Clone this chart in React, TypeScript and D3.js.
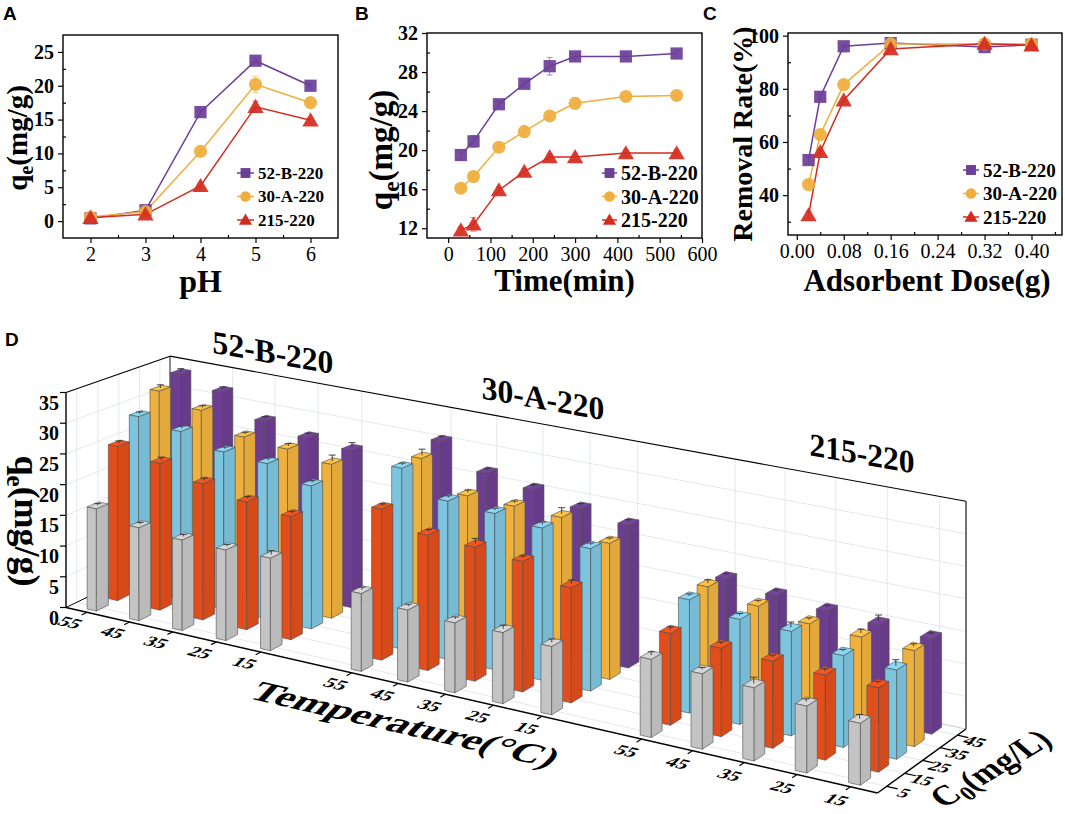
import { useEffect, useRef } from "react"
import * as d3 from "d3"

// ---------- shared series ----------
const seriesNames = ["52-B-220", "30-A-220", "215-220"]
const lineColors = ["#6B3E98", "#EFAE3D", "#D52B1E"]
const symbolTypes = [d3.symbolSquare, d3.symbolCircle, d3.symbolTriangle]
const symbolSizes = [150, 135, 115]

// ---------- panel A: effect of pH ----------
const phLevels = [2, 3, 4, 5, 6]
const phQe52B = [0.4, 1.6, 16.1, 23.7, 20.0]
const phQe30A = [0.6, 1.4, 10.3, 20.2, 17.5]
const phQe215 = [0.5, 1.0, 5.2, 16.9, 14.9]
const phErr52B = [0.2, 0.2, 0.3, 0.3, 0.3]
const phErr30A = [0.2, 0.2, 0.3, 1.2, 0.3]
const phErr215 = [0.2, 0.2, 0.5, 0.8, 0.3]

// ---------- panel B: contact time ----------
const timeMin = [30, 60, 120, 180, 240, 300, 420, 540]
const timeQe52B = [19.5, 20.9, 24.7, 26.8, 28.6, 29.6, 29.6, 29.9]
const timeQe30A = [16.1, 17.3, 20.3, 21.9, 23.5, 24.8, 25.5, 25.6]
const timeQe215 = [11.8, 12.4, 15.9, 17.8, 19.3, 19.3, 19.7, 19.7]
const timeErr52B = [0.5, 0.6, 0.3, 0.3, 0.9, 0.3, 0.3, 0.3]
const timeErr30A = [0.3, 0.4, 0.3, 0.6, 0.3, 0.6, 0.3, 0.3]
const timeErr215 = [0.3, 0.7, 0.3, 0.3, 0.3, 0.3, 0.3, 0.3]

// ---------- panel C: adsorbent dose ----------
const doseG = [0.02, 0.04, 0.08, 0.16, 0.32, 0.4]
const removal52B = [53.2, 77.0, 96.0, 97.2, 95.7, 96.6]
const removal30A = [44.0, 62.8, 81.6, 96.9, 96.9, 96.9]
const removal215 = [32.5, 56.3, 75.7, 95.0, 97.0, 96.4]
const removalErr52B = [1.2, 0.8, 0.5, 0.5, 0.5, 0.5]
const removalErr30A = [0.8, 0.8, 0.6, 0.5, 0.5, 0.5]
const removalErr215 = [1.5, 0.8, 0.6, 0.5, 0.5, 0.5]

// ---------- panel D: temperature x initial concentration ----------
const groups = ["52-B-220", "30-A-220", "215-220"]
const temps = [55, 45, 35, 25, 15]
const c0Levels = [5, 15, 25, 35, 45]
const c0Colors = ["#C4C4C4", "#E24E1B", "#7DC5DF", "#EFB13D", "#6D3D92"]
const zTicks = [0, 5, 10, 15, 20, 25, 30, 35]
// rows: C0 = 5,15,25,35,45 ; columns: T = 55,45,35,25,15
const qe52B = [
  [16.6, 15.0, 14.5, 14.4, 14.6],
  [25.4, 24.0, 22.1, 20.6, 19.7],
  [29.0, 27.9, 25.9, 25.4, 23.2],
  [32.0, 30.1, 27.0, 26.4, 25.3],
  [33.6, 31.9, 28.3, 26.9, 26.2],
]
const qe30A = [
  [12.1, 11.1, 10.7, 10.8, 10.3],
  [23.8, 21.2, 20.8, 20.1, 17.6],
  [28.9, 25.1, 24.6, 23.8, 22.1],
  [29.1, 24.5, 24.3, 24.0, 21.4],
  [30.5, 26.7, 25.5, 23.9, 22.8],
]
const qe215 = [
  [11.6, 11.1, 10.7, 9.7, 8.9],
  [13.8, 13.2, 12.9, 12.5, 12.3],
  [17.3, 15.9, 15.7, 13.7, 13.2],
  [17.7, 16.3, 15.2, 14.8, 14.4],
  [17.3, 16.3, 15.5, 15.0, 14.5],
]
const err52B = [
  [0.3, 0.3, 0.3, 0.3, 0.6],
  [0.4, 0.5, 0.4, 0.3, 0.3],
  [0.3, 0.4, 0.3, 0.4, 0.3],
  [0.6, 0.3, 0.3, 0.4, 1.0],
  [0.5, 0.4, 0.3, 0.3, 0.8],
]
const err30A = [
  [0.4, 0.3, 0.3, 0.5, 0.5],
  [0.3, 0.3, 0.8, 0.3, 0.6],
  [0.3, 0.3, 0.3, 0.4, 0.3],
  [1.0, 0.4, 0.3, 1.0, 0.3],
  [0.4, 0.3, 0.3, 0.3, 0.3],
]
const err215 = [
  [0.5, 0.3, 0.9, 0.4, 0.6],
  [0.4, 0.3, 0.3, 0.3, 0.3],
  [0.3, 0.3, 0.8, 0.3, 0.9],
  [0.5, 0.3, 0.3, 0.6, 0.4],
  [0.3, 0.3, 0.3, 0.9, 0.3],
]

const SERIF = "'Liberation Serif', 'Times New Roman', serif"
const SANS = "'Liberation Sans', Arial, sans-serif"

function drawLinePanel(svg: any, p: any) {
  const x = d3.scaleLinear().domain(p.xDomain).range([p.left, p.right])
  const y = d3.scaleLinear().domain(p.yDomain).range([p.bottom, p.top])
  const g = svg.append("g")

  // minor ticks point inward, major ticks outward
  g.append("g")
    .attr("transform", `translate(0,${p.bottom})`)
    .call(d3.axisBottom(x).tickValues(p.xMinor).tickSize(-3).tickFormat(() => ""))
  g.append("g")
    .attr("transform", `translate(${p.left},0)`)
    .call(d3.axisLeft(y).tickValues(p.yMinor).tickSize(-3).tickFormat(() => ""))
  g.append("g")
    .attr("transform", `translate(0,${p.bottom})`)
    .attr("class", "xmajor")
    .call(d3.axisBottom(x).tickValues(p.xTicks).tickSize(5).tickPadding(4).tickFormat(p.xFormat))
  g.append("g")
    .attr("transform", `translate(${p.left},0)`)
    .attr("class", "ymajor")
    .call(d3.axisLeft(y).tickValues(p.yTicks).tickSize(5).tickPadding(4).tickFormat(p.yFormat))

  g.selectAll(".domain").remove()
  g.selectAll(".tick line").attr("stroke", "#000").attr("stroke-width", 1.2)
  g.selectAll(".tick text").attr("fill", "#000").attr("font-family", SERIF).attr("font-size", 20)
  g.selectAll(".ymajor .tick text").attr("font-weight", "bold")

  g.append("rect")
    .attr("x", p.left)
    .attr("y", p.top)
    .attr("width", p.right - p.left)
    .attr("height", p.bottom - p.top)
    .attr("fill", "none")
    .attr("stroke", "#000")
    .attr("stroke-width", 1.4)

  const line = d3
    .line<number>()
    .x((_, i) => x(p.xValues[i]))
    .y((d) => y(d))

  p.series.forEach((vals: number[], si: number) => {
    g.append("path")
      .datum(vals)
      .attr("d", line)
      .attr("fill", "none")
      .attr("stroke", lineColors[si])
      .attr("stroke-width", 1.5)
  })

  // error bars
  p.series.forEach((vals: number[], si: number) => {
    vals.forEach((v, i) => {
      const e = p.errors[si][i]
      const cx = x(p.xValues[i])
      const eg = g.append("g").attr("stroke", lineColors[si]).attr("stroke-width", 1).attr("opacity", 0.6)
      eg.append("line").attr("x1", cx).attr("x2", cx).attr("y1", y(v - e)).attr("y2", y(v + e))
      eg.append("line").attr("x1", cx - 3).attr("x2", cx + 3).attr("y1", y(v - e)).attr("y2", y(v - e))
      eg.append("line").attr("x1", cx - 3).attr("x2", cx + 3).attr("y1", y(v + e)).attr("y2", y(v + e))
    })
  })

  p.series.forEach((vals: number[], si: number) => {
    const sym = d3.symbol().type(symbolTypes[si]).size(symbolSizes[si])
    g.selectAll(null)
      .data(vals)
      .enter()
      .append("path")
      .attr("d", sym)
      .attr("transform", (d: number, i: number) => `translate(${x(p.xValues[i])},${y(d) + (si === 2 ? 1.5 : 0)})`)
      .attr("fill", lineColors[si])
      .attr("fill-opacity", 0.92)
  })

  // legend
  seriesNames.forEach((name, si) => {
    const ly = p.legend.y + si * p.legend.gap
    g.append("line")
      .attr("x1", p.legend.x)
      .attr("x2", p.legend.x + p.legend.len)
      .attr("y1", ly)
      .attr("y2", ly)
      .attr("stroke", lineColors[si])
      .attr("stroke-width", 1.5)
    g.append("path")
      .attr("d", d3.symbol().type(symbolTypes[si]).size(symbolSizes[si] * 0.65)())
      .attr("transform", `translate(${p.legend.x + p.legend.len / 2},${ly + (si === 2 ? 1 : 0)})`)
      .attr("fill", lineColors[si])
    g.append("text")
      .attr("x", p.legend.x + p.legend.len + 4)
      .attr("y", ly)
      .attr("dy", "0.35em")
      .attr("font-family", SERIF)
      .attr("font-weight", "bold")
      .attr("font-size", p.legend.fontSize)
      .text(name)
  })

  // axis titles
  g.append("text")
    .attr("x", (p.left + p.right) / 2 + (p.xTitleDx || 0))
    .attr("y", p.xTitleY)
    .attr("text-anchor", "middle")
    .attr("font-family", SERIF)
    .attr("font-weight", "bold")
    .attr("font-size", p.xTitleSize)
    .text(p.xTitle)

  const yt = g
    .append("text")
    .attr("transform", `translate(${p.yTitleX},${p.yTitleY}) rotate(-90)`)
    .attr("text-anchor", "middle")
    .attr("font-family", SERIF)
    .attr("font-weight", "bold")
    .attr("font-size", p.yTitleSize)
  if (p.yTitleSub) {
    yt.append("tspan").text("q")
    yt.append("tspan").attr("font-size", "70%").attr("dy", "0.3em").text("e")
    yt.append("tspan").attr("dy", "-0.21em").text("(mg/g)")
  } else {
    yt.text(p.yTitle)
  }

  g.append("text")
    .attr("x", p.letter[0])
    .attr("y", p.letter[1])
    .attr("font-family", SANS)
    .attr("font-weight", "bold")
    .attr("font-size", 19)
    .text(p.letter[2])
}

// map the unit floor square onto a quadrilateral (projective)
function makeFloor(p0: number[], p1: number[], p2: number[], p3: number[]) {
  const [x0, y0] = p0
  const [x1, y1] = p1
  const [x2, y2] = p2
  const [x3, y3] = p3
  const dx1 = x1 - x2, dx2 = x3 - x2, dx3 = x0 - x1 + x2 - x3
  const dy1 = y1 - y2, dy2 = y3 - y2, dy3 = y0 - y1 + y2 - y3
  const den = dx1 * dy2 - dx2 * dy1
  const g = (dx3 * dy2 - dx2 * dy3) / den
  const h = (dx1 * dy3 - dx3 * dy1) / den
  const a = x1 - x0 + g * x1, b = x3 - x0 + h * x3, c = x0
  const d = y1 - y0 + g * y1, e = y3 - y0 + h * y3, f = y0
  return (u: number, v: number) => {
    const w = g * u + h * v + 1
    return { x: (a * u + b * v + c) / w, y: (d * u + e * v + f) / w, w }
  }
}

function drawBarPanel(svg: any) {
  const floor = makeFloor([66, 607.5], [877.5, 793], [966, 729], [170, 557])
  const zPix = d3.scaleLinear().domain([0, 35]).range([0, 215])
  const project = (u: number, v: number, z: number) => {
    const p = floor(u, v)
    return [p.x, p.y - (zPix(z) / p.w) * (1 - 0.035 * v)]
  }

  const slotKeys: string[] = []
  groups.forEach((gname, gi) => {
    temps.forEach((t) => slotKeys.push(`${gname}|${t}`))
    if (gi < groups.length - 1) slotKeys.push(`gap${gi}`)
  })
  const uScale = d3.scalePoint<string>().domain(slotKeys).range([0, 1]).padding(0.5)
  const vScale = d3.scalePoint<number>().domain(c0Levels).range([0, 1]).padding(0.5)
  const du = uScale.step() * 0.11
  const dv = vScale.step() * 0.28

  const g = svg.append("g")
  const poly = (pts: number[][]) => "M" + pts.map((q) => q.join(",")).join("L") + "Z"
  const seg = (a: number[], b: number[], stroke: string, w: number) =>
    g.append("line").attr("x1", a[0]).attr("y1", a[1]).attr("x2", b[0]).attr("y2", b[1])
      .attr("stroke", stroke).attr("stroke-width", w)

  // walls and floor
  g.append("path").attr("d", poly([project(0, 0, 0), project(1, 0, 0), project(1, 1, 0), project(0, 1, 0)])).attr("fill", "#fff")
  g.append("path").attr("d", poly([project(0, 1, 0), project(1, 1, 0), project(1, 1, 35), project(0, 1, 35)])).attr("fill", "#fff")
  g.append("path").attr("d", poly([project(0, 0, 0), project(0, 1, 0), project(0, 1, 35), project(0, 0, 35)])).attr("fill", "#fff")

  const gridColor = "#d9dfe4"
  const tempSlots = slotKeys.filter((k) => !k.startsWith("gap"))
  tempSlots.forEach((k) => {
    const u = uScale(k)!
    seg(project(u, 0, 0), project(u, 1, 0), gridColor, 0.7)
    seg(project(u, 1, 0), project(u, 1, 35), gridColor, 0.7)
  })
  c0Levels.forEach((c) => {
    const v = vScale(c)!
    seg(project(0, v, 0), project(1, v, 0), gridColor, 0.7)
    seg(project(0, v, 0), project(0, v, 35), gridColor, 0.7)
  })
  zTicks.slice(1, -1).forEach((z) => {
    seg(project(0, 1, z), project(1, 1, z), gridColor, 0.7)
    seg(project(0, 0, z), project(0, 1, z), gridColor, 0.7)
  })

  // back frame lines
  seg(project(0, 1, 0), project(0, 1, 35), "#000", 0.9)
  seg(project(1, 1, 0), project(1, 1, 35), "#000", 1.1)
  seg(project(0, 1, 35), project(1, 1, 35), "#000", 1.1)
  seg(project(0, 0, 35), project(0, 1, 35), "#000", 1.1)
  seg(project(0, 0, 0), project(0, 1, 0), "#000", 1.0)
  seg(project(0, 1, 0), project(1, 1, 0), "#9aa", 0.6)

  // bars
  const tables = [qe52B, qe30A, qe215]
  const errTables = [err52B, err30A, err215]
  const bars: any[] = []
  groups.forEach((gname, gi) => {
    temps.forEach((t, ti) => {
      c0Levels.forEach((c, ci) => {
        const u = uScale(`${gname}|${t}`)!
        const v = vScale(c)!
        bars.push({ u, v, value: tables[gi][ci][ti], err: errTables[gi][ci][ti], color: c0Colors[ci], w: floor(u, v).w })
      })
    })
  })
  bars.sort((a, b) => b.w - a.w)

  bars.forEach((b) => {
    const u0 = b.u - du, u1 = b.u + du, v0 = b.v - dv, v1 = b.v + dv, h = b.value
    const base = d3.color(b.color)!
    const faces = [
      { pts: [[u0, v0, h], [u1, v0, h], [u1, v1, h], [u0, v1, h]], fill: base.brighter(0.25).toString() },
      { pts: [[u0, v0, 0], [u1, v0, 0], [u1, v0, h], [u0, v0, h]], fill: base.toString() },
      { pts: [[u0, v1, 0], [u0, v1, h], [u1, v1, h], [u1, v1, 0]], fill: base.toString() },
      { pts: [[u0, v0, 0], [u0, v0, h], [u0, v1, h], [u0, v1, 0]], fill: base.darker(0.15).toString() },
      { pts: [[u1, v0, 0], [u1, v1, 0], [u1, v1, h], [u1, v0, h]], fill: base.darker(0.15).toString() },
    ]
    faces.forEach((f) => {
      const pts = f.pts.map(([a, bb, z]) => project(a, bb, z))
      let area = 0
      for (let i = 0; i < pts.length; i++) {
        const p1 = pts[i], p2 = pts[(i + 1) % pts.length]
        area += p1[0] * p2[1] - p2[0] * p1[1]
      }
      if (area < 0) {
        g.append("path").attr("d", poly(pts)).attr("fill", f.fill).attr("stroke", "#4d4d4d").attr("stroke-width", 0.6).attr("stroke-linejoin", "round")
      }
    })
    const top = project(b.u, b.v, h)
    const eTop = project(b.u, b.v, h + b.err)
    seg(top, eTop, "#333", 0.9)
    seg([eTop[0] - 3.5, eTop[1]], [eTop[0] + 3.5, eTop[1]], "#333", 0.9)
  })

  // front axes
  seg(project(0, 0, 0), project(1, 0, 0), "#000", 1.5)
  seg(project(1, 0, 0), project(1, 1, 0), "#000", 1.5)
  seg(project(0, 0, 0), project(0, 0, 35), "#000", 1.4)

  // z ticks and labels
  zTicks.forEach((z) => {
    const p = project(0, 0, z)
    seg([p[0] - 6, p[1]], p, "#000", 1.2)
    g.append("text")
      .attr("x", p[0] - 7)
      .attr("y", p[1] + 10)
      .attr("dy", "0.35em")
      .attr("text-anchor", "end")
      .attr("font-family", SERIF)
      .attr("font-weight", "bold")
      .attr("font-size", 20)
      .text(z)
  })

  const floorAngle = (u: number, v: number) => {
    const a = floor(u - 0.01, v), b = floor(u + 0.01, v)
    return (Math.atan2(b.y - a.y, b.x - a.x) * 180) / Math.PI
  }

  // temperature ticks and labels
  tempSlots.forEach((k) => {
    const u = uScale(k)!
    seg(project(u, 0, 0), project(u, -0.05, 0), "#000", 1.2)
    const p = floor(u, -0.19)
    g.append("text")
      .attr("transform", `translate(${p.x + 4},${p.y}) rotate(${floorAngle(u, -0.2)}) skewX(-32) scale(1,0.72)`)
      .attr("text-anchor", "middle")
      .attr("dy", "0.35em")
      .attr("font-family", SERIF)
      .attr("font-weight", "bold")
      .attr("font-size", 21)
      .text(k.split("|")[1])
  })

  // C0 ticks and labels
  c0Levels.forEach((c) => {
    const v = vScale(c)!
    seg(project(1, v, 0), project(1.012, v, 0), "#000", 1.2)
    const p = floor(1.022, v - 0.03)
    g.append("text")
      .attr("transform", `translate(${p.x},${p.y}) rotate(${floorAngle(1.02, v)}) skewX(-32) scale(1,0.72)`)
      .attr("text-anchor", "middle")
      .attr("dy", "0.35em")
      .attr("font-family", SERIF)
      .attr("font-weight", "bold")
      .attr("font-size", 20)
      .text(c)
  })

  // axis titles
  g.append("text")
    .attr("transform", "translate(406,724) rotate(13) skewX(-30) scale(1,0.7)")
    .attr("text-anchor", "middle")
    .attr("dy", "0.35em")
    .attr("font-family", SERIF)
    .attr("font-weight", "bold")
    .attr("font-size", 42)
    .attr("textLength", 310)
    .attr("lengthAdjust", "spacingAndGlyphs")
    .text("Temperature(°C)")

  const c0t = g
    .append("text")
    .attr("transform", "translate(990,768) rotate(-31) skewX(18)")
    .attr("text-anchor", "middle")
    .attr("dy", "0.35em")
    .attr("font-family", SERIF)
    .attr("font-weight", "bold")
    .attr("font-size", 32)
  c0t.append("tspan").text("C")
  c0t.append("tspan").attr("font-size", "70%").attr("dy", "0.3em").text("0")
  c0t.append("tspan").attr("dy", "-0.21em").text("(mg/L)")

  const zt = g
    .append("text")
    .attr("transform", "translate(15,521) rotate(90)")
    .attr("text-anchor", "middle")
    .attr("font-family", SERIF)
    .attr("font-weight", "bold")
    .attr("font-size", 36)
  zt.append("tspan").text("q")
  zt.append("tspan").attr("font-size", "70%").attr("dy", "0.3em").text("e")
  zt.append("tspan").attr("dy", "-0.21em").text("(mg/g)")

  // group titles along the back wall
  const titlePos = [[273, 352], [543, 398], [862, 453]]
  groups.forEach((gname, gi) => {
    g.append("text")
      .attr("transform", `translate(${titlePos[gi][0]},${titlePos[gi][1]}) rotate(10) skewX(10)`)
      .attr("text-anchor", "middle")
      .attr("dy", "0.35em")
      .attr("font-family", SERIF)
      .attr("font-weight", "bold")
      .attr("font-size", 32)
      .text(gname)
  })

  g.append("text")
    .attr("x", 5)
    .attr("y", 346)
    .attr("font-family", SANS)
    .attr("font-weight", "bold")
    .attr("font-size", 19)
    .text("D")
}

export default function App() {
  const svgRef = useRef<SVGSVGElement>(null)

  useEffect(() => {
    if (!svgRef.current) return
    const svg = d3.select(svgRef.current)
    svg.selectAll("*").remove()

    drawLinePanel(svg, {
      left: 63, right: 338, top: 35, bottom: 238,
      xDomain: [1.5, 6.5], yDomain: [-2.5, 27.5],
      xTicks: phLevels, xMinor: [2.5, 3.5, 4.5, 5.5],
      yTicks: [0, 5, 10, 15, 20, 25], yMinor: [2.5, 7.5, 12.5, 17.5, 22.5],
      xFormat: (d: number) => `${d}`, yFormat: (d: number) => `${d}`,
      xValues: phLevels,
      series: [phQe52B, phQe30A, phQe215],
      errors: [phErr52B, phErr30A, phErr215],
      legend: { x: 237, y: 173, gap: 23.5, len: 17, fontSize: 17 },
      xTitle: "pH", xTitleY: 292, xTitleSize: 32,
      yTitleSub: true, yTitleX: 27, yTitleY: 138, yTitleSize: 29,
      letter: [3, 20, "A"],
    })

    drawLinePanel(svg, {
      left: 427, right: 702, top: 33, bottom: 238,
      xDomain: [-50, 600], yDomain: [11, 32],
      xTicks: [0, 100, 200, 300, 400, 500, 600], xMinor: [50, 150, 250, 350, 450, 550],
      yTicks: [12, 16, 20, 24, 28, 32], yMinor: [14, 18, 22, 26, 30],
      xFormat: (d: number) => `${d}`, yFormat: (d: number) => `${d}`,
      xValues: timeMin,
      series: [timeQe52B, timeQe30A, timeQe215],
      errors: [timeErr52B, timeErr30A, timeErr215],
      legend: { x: 602, y: 173, gap: 23.5, len: 15, fontSize: 20 },
      xTitle: "Time(min)", xTitleY: 291, xTitleSize: 31,
      yTitleSub: true, yTitleX: 392, yTitleY: 150, yTitleSize: 33,
      letter: [355, 20, "B"],
    })

    drawLinePanel(svg, {
      left: 788, right: 1062, top: 33, bottom: 235,
      xDomain: [-0.015, 0.452], yDomain: [25, 101],
      xTicks: [0, 0.08, 0.16, 0.24, 0.32, 0.4], xMinor: [0.04, 0.12, 0.2, 0.28, 0.36, 0.44],
      yTicks: [40, 60, 80, 100], yMinor: [30, 50, 70, 90],
      xFormat: d3.format(".2f"), yFormat: (d: number) => `${d}`,
      xValues: doseG,
      series: [removal52B, removal30A, removal215],
      errors: [removalErr52B, removalErr30A, removalErr215],
      legend: { x: 963, y: 170, gap: 23.5, len: 16, fontSize: 19 },
      xTitle: "Adsorbent Dose(g)", xTitleY: 291, xTitleSize: 31, xTitleDx: 2,
      yTitleSub: false, yTitle: "Removal Rate(%)", yTitleX: 752, yTitleY: 134, yTitleSize: 28,
      letter: [703, 20, "C"],
    })

    drawBarPanel(svg)
  }, [])

  return (
    <svg
      ref={svgRef}
      width={1065}
      height={814}
      style={{ position: "absolute", left: 0, top: 0, background: "#fff" }}
    />
  )
}
